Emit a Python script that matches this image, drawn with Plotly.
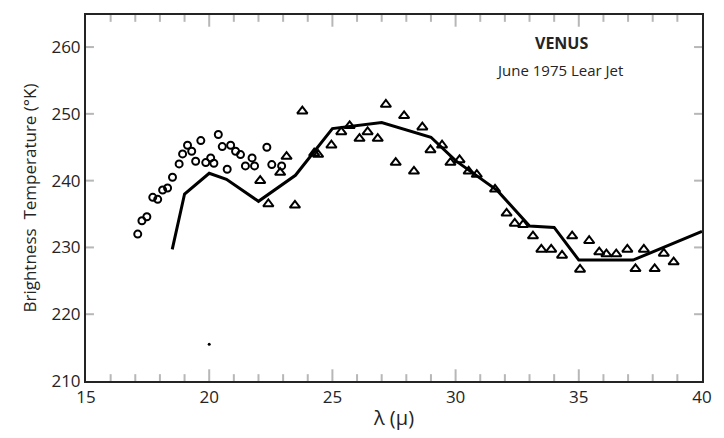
import plotly.graph_objects as go

# Observed data: circles (short wavelength set)
circ_x = [17.1, 17.27, 17.47, 17.71, 17.91, 18.11, 18.31, 18.51, 18.78, 18.92, 19.12, 19.29,
          19.45, 19.66, 19.86, 20.06, 20.19, 20.37, 20.53, 20.73, 20.87, 21.07, 21.27, 21.47,
          21.74, 21.84, 22.34, 22.54, 22.94]
circ_y = [232.0, 234.0, 234.6, 237.5, 237.2, 238.6, 238.9, 240.5, 242.5, 244.0, 245.3, 244.4,
          242.9, 246.0, 242.7, 243.4, 242.6, 246.9, 245.1, 241.7, 245.3, 244.4, 243.9, 242.2,
          243.4, 242.2, 245.0, 242.4, 242.2]

# Observed data: triangles
tri_x = [22.07, 22.4, 22.88, 23.14, 23.48, 23.78, 24.26, 24.42, 24.96, 25.36, 25.70, 26.1,
         26.43, 26.84, 27.17, 27.57, 27.91, 28.31, 28.65, 28.98, 29.45, 29.79, 30.16, 30.53,
         30.86, 31.6, 32.07, 32.4, 32.74, 33.14, 33.48, 33.88, 34.32, 34.73, 35.05, 35.42,
         35.83, 36.12, 36.52, 36.97, 37.3, 37.64, 38.08, 38.45, 38.85]
tri_y = [240.0, 236.5, 241.2, 243.6, 236.3, 250.4, 244.1, 243.9, 245.3, 247.3, 248.2, 246.3,
         247.3, 246.3, 251.4, 242.7, 249.7, 241.4, 248.0, 244.6, 245.3, 242.7, 243.1, 241.4,
         240.9, 238.7, 235.1, 233.6, 233.4, 231.7, 229.7, 229.7, 228.8, 231.7, 226.7, 231.0,
         229.3, 229.0, 229.0, 229.7, 226.8, 229.7, 226.8, 229.1, 227.8]

# Model curve
model_x = [18.5, 19.0, 20.0, 20.7, 22.0, 23.5, 25.0, 25.5, 27.0, 29.0, 30.0, 31.7,
           33.0, 34.0, 35.0, 37.2, 40.0]
model_y = [229.7, 238.0, 241.1, 240.2, 236.9, 240.8, 247.8, 248.0, 248.7, 246.5, 243.0, 238.5,
           233.2, 233.0, 228.1, 228.1, 232.4]

# stray dot in scan
dot_x = [20.0]
dot_y = [215.5]

# tick positions
x_major = [15, 20, 25, 30, 35, 40]
x_minor = [16, 17, 18, 19, 21, 22, 23, 24, 26, 27, 28, 29, 31, 32, 33, 34, 36, 37, 38, 39]
y_major = [210, 220, 230, 240, 250, 260]

X_RANGE = [15, 40]
Y_RANGE = [210, 264.8]

W, H = 724, 438
M = dict(l=86, r=17, t=15, b=48)
PLOT_W = W - M["l"] - M["r"]
PLOT_H = H - M["t"] - M["b"]
TICK_COL = "rgb(20,20,20)"

fig = go.Figure()
fig.add_trace(go.Scatter(x=model_x, y=model_y, mode="lines",
                         line=dict(color="black", width=3), showlegend=False))
fig.add_trace(go.Scatter(x=circ_x, y=circ_y, mode="markers",
                         marker=dict(symbol="circle-open", size=7, color="black",
                                     line=dict(width=2, color="black")),
                         showlegend=False))
fig.add_trace(go.Scatter(x=tri_x, y=tri_y, mode="markers",
                         marker=dict(symbol="triangle-up-open", size=9, color="black",
                                     line=dict(width=2, color="black")),
                         showlegend=False))
fig.add_trace(go.Scatter(x=dot_x, y=dot_y, mode="markers",
                         marker=dict(symbol="circle", size=3, color="black"),
                         showlegend=False))

# inward tick marks on all four sides, placed through the axes' own scales
shapes = []
def xtick(v, length_px):
    f = length_px / PLOT_H
    shapes.append(dict(type="line", xref="x", yref="y domain", x0=v, x1=v, y0=0, y1=f,
                       line=dict(color=TICK_COL, width=2), layer="above"))
    shapes.append(dict(type="line", xref="x", yref="y domain", x0=v, x1=v, y0=1, y1=1 - f,
                       line=dict(color=TICK_COL, width=2), layer="above"))
def ytick(v, length_px):
    f = length_px / PLOT_W
    shapes.append(dict(type="line", xref="x domain", yref="y", x0=0, x1=f, y0=v, y1=v,
                       line=dict(color=TICK_COL, width=2), layer="above"))
    shapes.append(dict(type="line", xref="x domain", yref="y", x0=1, x1=1 - f, y0=v, y1=v,
                       line=dict(color=TICK_COL, width=2), layer="above"))

for v in x_major[1:-1]:
    xtick(v, 12)
for v in x_minor:
    xtick(v, 7)
for v in y_major[1:]:
    ytick(v, 8)

fig.update_layout(
    template="simple_white",
    width=W, height=H,
    margin=M,
    shapes=shapes,
    xaxis=dict(range=X_RANGE, tickvals=x_major, ticks="", 
               showline=True, linewidth=2, mirror=True,
               tickfont=dict(size=17),
               title=dict(text="λ (μ)", font=dict(size=20), standoff=4)),
    yaxis=dict(range=Y_RANGE, tickvals=y_major, ticks="",
               showline=True, linewidth=2, mirror=True,
               tickfont=dict(size=17),
               title=dict(text="Brightness  Temperature (°K)", font=dict(size=17), standoff=10)),
    annotations=[
        dict(x=34.3, y=260.6, xref="x", yref="y", text="<b>VENUS</b>", showarrow=False,
             font=dict(size=16), xanchor="center", yanchor="middle"),
        dict(x=34.2, y=256.5, xref="x", yref="y", text="June 1975 Lear Jet", showarrow=False,
             font=dict(size=15), xanchor="center", yanchor="middle"),
    ],
)

fig.write_html("out.html")
